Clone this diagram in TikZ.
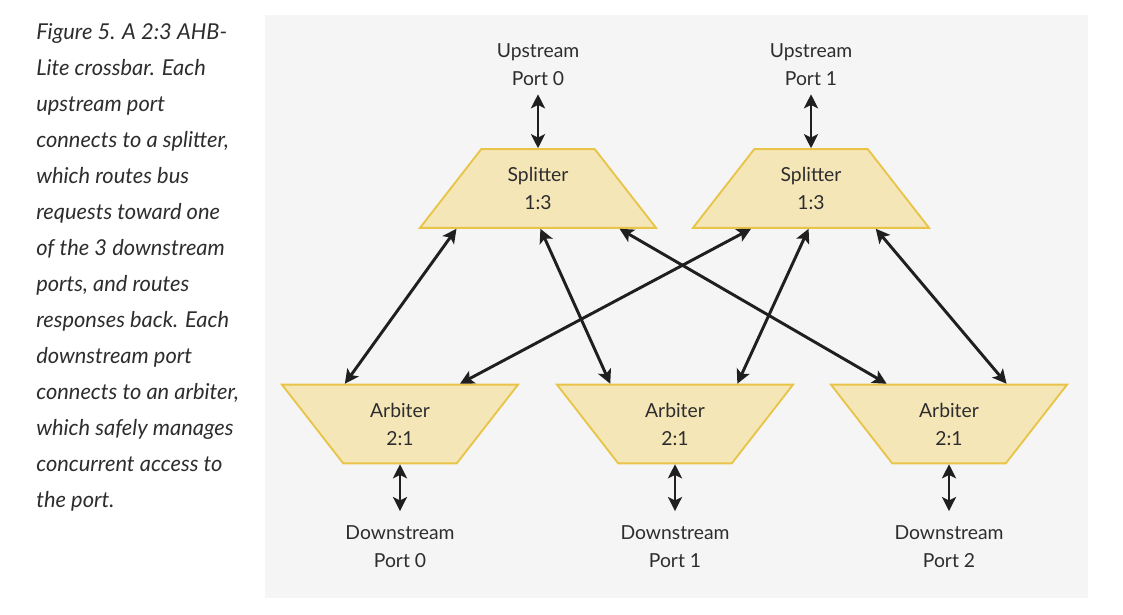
\documentclass[tikz,border=0pt]{standalone}
\usepackage{fontspec}
\setmainfont{Lato}
\newfontfamily\capfont{Lato}
\usetikzlibrary{shapes.geometric,arrows.meta,calc,positioning}
\definecolor{panel}{RGB}{245,245,245}
\definecolor{boxfill}{RGB}{245,230,184}
\definecolor{boxline}{RGB}{232,196,72}
\definecolor{txt}{RGB}{45,45,45}
\tikzset{
  unit_box/.style={trapezium, trapezium stretches body, draw=boxline, fill=boxfill, line width=1.4pt,
    minimum width=177pt, minimum height=59pt, inner sep=0pt, align=center, text=txt,
    font=\fontsize{14.5}{21}\selectfont},
  port_lbl/.style={align=center, text=txt, inner sep=0pt, font=\fontsize{14.5}{21}\selectfont},
  link/.style={{Stealth[length=10.5pt,width=10.5pt,inset=2.5pt]}-{Stealth[length=10.5pt,width=10.5pt,inset=2.5pt]}, line width=2.2pt, draw=black!88}
}
\begin{document}
\begin{tikzpicture}[x=0.75pt,y=-0.75pt]
\useasboundingbox (0,0) rectangle (1123,614);
\fill[panel] (265,15) rectangle (1088,598);

% caption
\node[anchor=north west, align=left, inner sep=0pt, text=txt,
  font=\capfont\itshape\fontsize{16.4}{27}\selectfont] (caption) at (36,23)
  {Figure 5. A 2:3 AHB-\\Lite crossbar. Each\\upstream port\\connects to a splitter,\\which routes bus\\requests toward one\\of the 3 downstream\\ports, and routes\\responses back. Each\\downstream port\\connects to an arbiter,\\which safely manages\\concurrent access to\\the port.};

% splitters
\node[unit_box, trapezium angle=34.7] (sp0) at (538,188.5) {Splitter\\1:3};
\node[unit_box, trapezium angle=34.7] (sp1) at (811,188.5) {Splitter\\1:3};

% arbiters
\node[unit_box, trapezium angle=145.3] (arb0) at (400,424) {Arbiter\\2:1};
\node[unit_box, trapezium angle=145.3] (arb1) at (675,424) {Arbiter\\2:1};
\node[unit_box, trapezium angle=145.3] (arb2) at (949,424) {Arbiter\\2:1};

% ports
\node[port_lbl] (up0) at (538,65) {Upstream\\Port 0};
\node[port_lbl] (up1) at (811,65) {Upstream\\Port 1};
\node[port_lbl] (dn0) at (400,547) {Downstream\\Port 0};
\node[port_lbl] (dn1) at (675,547) {Downstream\\Port 1};
\node[port_lbl] (dn2) at (949,547) {Downstream\\Port 2};

\draw[link, shorten <=6pt] (up0.south) -- (sp0.top side);
\draw[link, shorten <=6pt] (up1.south) -- (sp1.top side);
\draw[link, shorten >=11pt] (arb0.bottom side) -- (dn0.north);
\draw[link, shorten >=11pt] (arb1.bottom side) -- (dn1.north);
\draw[link, shorten >=11pt] (arb2.bottom side) -- (dn2.north);

% crossbar links
\draw[link] ($(sp0.bottom left corner)!0.16!(sp0.bottom right corner)$) -- ($(arb0.top left corner)!0.27!(arb0.top right corner)$);
\draw[link] ($(sp0.bottom left corner)!0.51!(sp0.bottom right corner)$) -- ($(arb1.top left corner)!0.23!(arb1.top right corner)$);
\draw[link] ($(sp0.bottom left corner)!0.84!(sp0.bottom right corner)$) -- ($(arb2.top left corner)!0.24!(arb2.top right corner)$);
\draw[link] ($(sp1.bottom left corner)!0.25!(sp1.bottom right corner)$) -- ($(arb0.top left corner)!0.75!(arb0.top right corner)$);
\draw[link] ($(sp1.bottom left corner)!0.49!(sp1.bottom right corner)$) -- ($(arb1.top left corner)!0.76!(arb1.top right corner)$);
\draw[link] ($(sp1.bottom left corner)!0.77!(sp1.bottom right corner)$) -- ($(arb2.top left corner)!0.74!(arb2.top right corner)$);
\end{tikzpicture}
\end{document}
